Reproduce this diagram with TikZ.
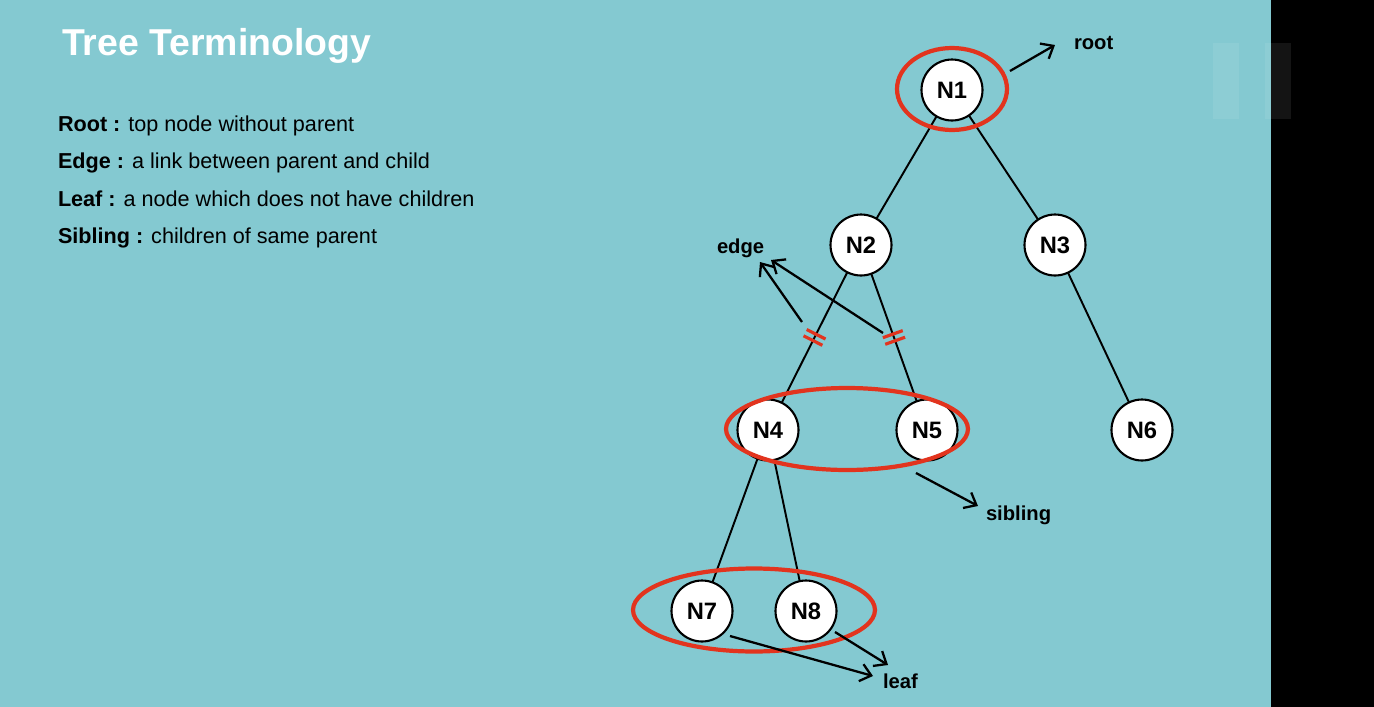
\documentclass[tikz,border=0pt]{standalone}
\usepackage{fontspec}
\setmainfont{Liberation Sans}
\usetikzlibrary{arrows.meta,shapes.geometric,decorations.markings}
\definecolor{slidebg}{RGB}{132,201,209}
\definecolor{markred}{RGB}{226,52,30}

\begin{document}
\begin{tikzpicture}[x=0.02cm,y=-0.02cm,inner sep=0pt,outer sep=0pt,
>={Straight Barb[length=6pt,width=10pt]},
treenode/.style={draw,circle,fill=white,line width=1.2pt,minimum size=1.22cm,font=\fontsize{13.5}{15}\selectfont\bfseries},
link/.style={line width=1.1pt},
pointer/.style={->,line width=1.3pt},
ring/.style={draw=markred,ellipse,line width=2.4pt},
tag/.style={anchor=base west,font=\fontsize{11.5}{13}\selectfont\bfseries},
defn/.style={anchor=base west,font=\fontsize{12.3}{14}\selectfont},
cut/.style={postaction={decorate,decoration={markings,mark=at position .5 with {\draw[markred,line width=1.8pt] (-2pt,-6pt) -- (-2pt,6pt) (2pt,-6pt) -- (2pt,6pt);}}}}]

\fill[slidebg] (0,0) rectangle (1271,707);
\fill[black] (1271,0) rectangle (1374,707);
\fill[white,opacity=.08] (1213,43) rectangle (1239,119);
\fill[white,opacity=.08] (1265,43) rectangle (1291,119);

\draw (62,55) node[anchor=base west,text=white,font=\fontsize{21.3}{24}\selectfont\bfseries] (title) {Tree Terminology};
\draw (58,131) node[defn] (dRoot) {\textbf{Root :} top node without parent};
\draw (58,168) node[defn] (dEdge) {\textbf{Edge :} a link between parent and child};
\draw (58,206) node[defn] (dLeaf) {\textbf{Leaf :} a node which does not have children};
\draw (58,243) node[defn] (dSib) {\textbf{Sibling :} children of same parent};

\draw (952,90) node[treenode] (n1) {N1};
\draw (861,245) node[treenode] (n2) {N2};
\draw (1055,245) node[treenode] (n3) {N3};
\draw (768,430) node[treenode] (n4) {N4};
\draw (927,430) node[treenode] (n5) {N5};
\draw (1142,430) node[treenode] (n6) {N6};
\draw (702,611) node[treenode] (n7) {N7};
\draw (806,611) node[treenode] (n8) {N8};

\draw[link] (n1) -- (n2);
\draw[link] (n1) -- (n3);
\draw[link,cut] (n2) -- (n4);
\draw[link,cut] (n2) -- (n5);
\draw[link] (n3) -- (n6);
\draw[link] (n4) -- (n7);
\draw[link] (n4) -- (n8);

\draw (952,89) node[ring,minimum width=2.2cm,minimum height=1.64cm] (ring1) {};
\draw (847,429) node[ring,minimum width=4.84cm,minimum height=1.64cm] (ring45) {};
\draw (754,610) node[ring,minimum width=4.84cm,minimum height=1.66cm] (ring78) {};

\draw (1074,49) node[tag] (root) {root};
\draw (717,253) node[tag] (edge) {edge};
\draw (986,520) node[tag] (sibling) {sibling};
\draw (883,688) node[tag] (leaf) {leaf};

\coordinate (rootFrom) at (1010,71);
\coordinate (rootTo) at (1055,45);
\coordinate (edgeFromA) at (802,322);
\coordinate (edgeToA) at (760,262);
\coordinate (edgeFromB) at (883,333);
\coordinate (edgeToB) at (771,260);
\coordinate (sibFrom) at (916,473);
\coordinate (sibTo) at (978,506);
\coordinate (leafFromA) at (730,636);
\coordinate (leafToA) at (873,676);
\coordinate (leafFromB) at (835,632);
\coordinate (leafToB) at (888,665);

\draw[pointer] (rootFrom) -- (rootTo);
\draw[pointer] (edgeFromA) -- (edgeToA);
\draw[pointer] (edgeFromB) -- (edgeToB);
\draw[pointer] (sibFrom) -- (sibTo);
\draw[pointer] (leafFromA) -- (leafToA);
\draw[pointer] (leafFromB) -- (leafToB);

\end{tikzpicture}
\end{document}
